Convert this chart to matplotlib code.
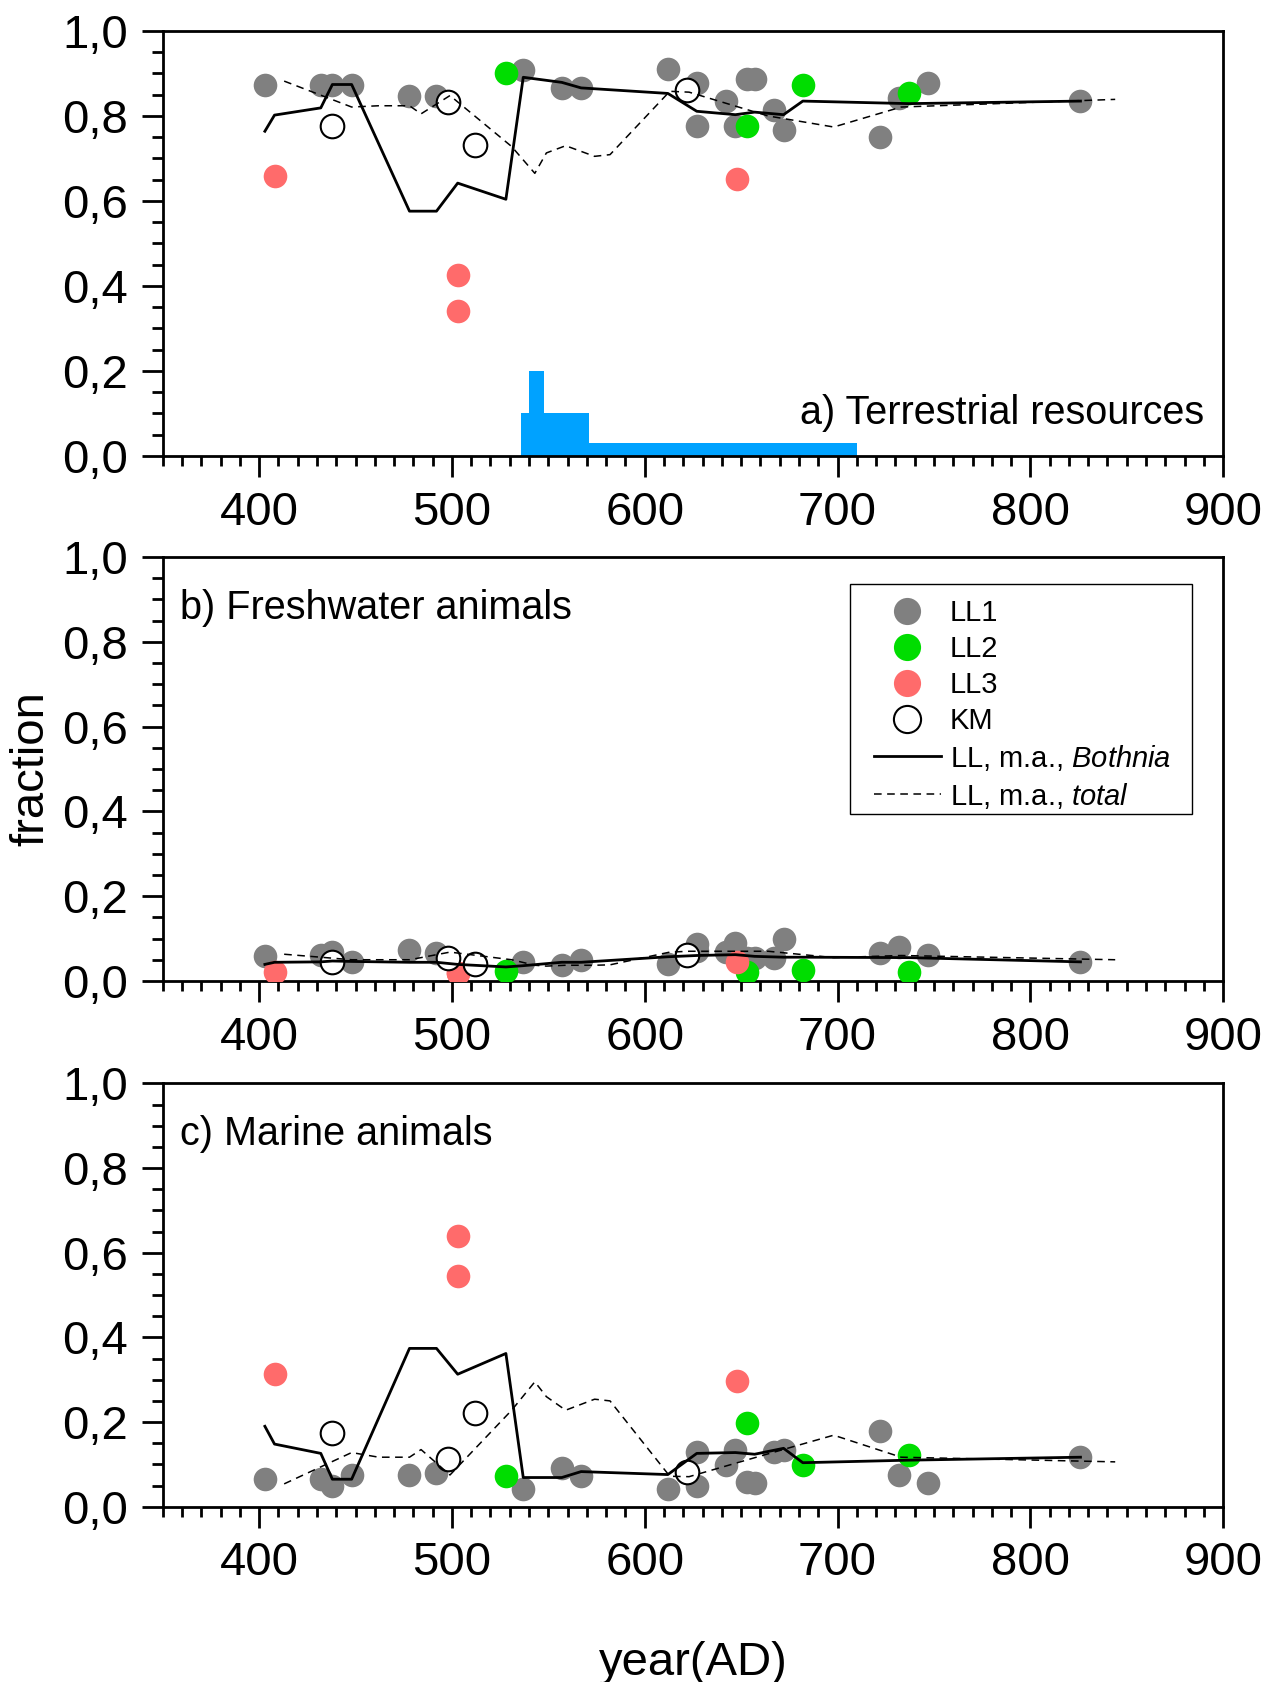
import numpy as np
import matplotlib
matplotlib.use('Agg')
import matplotlib.pyplot as plt
from matplotlib.patches import Rectangle
from matplotlib.ticker import MultipleLocator, FuncFormatter

plt.rcParams['font.family'] = ['Liberation Sans', 'DejaVu Sans']
plt.rcParams['mathtext.fontset'] = 'custom'
plt.rcParams['mathtext.rm'] = 'Liberation Sans'
plt.rcParams['mathtext.it'] = 'Liberation Sans:italic'

# ---- data ----
# LL1 samples (grey)
ll1_year = [403, 432, 438, 448, 478, 492, 537, 557, 567, 612, 627, 627, 642, 647, 653, 657, 667, 672, 722, 732, 747, 826]
ll1_terr = [0.874, 0.874, 0.874, 0.874, 0.848, 0.848, 0.909, 0.866, 0.866, 0.911, 0.878, 0.777, 0.835, 0.777, 0.886, 0.886, 0.815, 0.768, 0.750, 0.843, 0.878, 0.835]
ll1_fresh = [0.058, 0.061, 0.068, 0.045, 0.072, 0.065, 0.045, 0.037, 0.050, 0.040, 0.070, 0.088, 0.068, 0.090, 0.053, 0.055, 0.053, 0.098, 0.066, 0.080, 0.061, 0.045]
ll1_marine = [0.065, 0.065, 0.049, 0.076, 0.076, 0.079, 0.043, 0.091, 0.072, 0.043, 0.049, 0.130, 0.098, 0.134, 0.059, 0.057, 0.130, 0.134, 0.180, 0.076, 0.057, 0.117]

# LL2 samples (green)
ll2_year = [528, 653, 682, 737]
ll2_terr = [0.900, 0.777, 0.872, 0.853]
ll2_fresh = [0.023, 0.021, 0.025, 0.021]
ll2_marine = [0.072, 0.197, 0.098, 0.122]

# LL3 samples (red)
ll3_year = [408, 503, 503, 648]
ll3_terr = [0.659, 0.425, 0.341, 0.651]
ll3_fresh = [0.021, 0.019, 0.019, 0.045]
ll3_marine = [0.313, 0.546, 0.640, 0.297]

# KM samples (open circles)
km_year = [438, 498, 512, 622]
km_terr = [0.776, 0.832, 0.732, 0.861]
km_fresh = [0.045, 0.053, 0.041, 0.061]
km_marine = [0.175, 0.112, 0.222, 0.083]

# moving average, Bothnia (solid)
ma_b_year = [403, 408, 432, 438, 448, 478, 492, 503, 528, 537, 557, 567, 612, 627, 647, 657, 672, 682, 737, 826]
ma_b_terr = [0.764, 0.802, 0.819, 0.874, 0.874, 0.576, 0.576, 0.642, 0.604, 0.891, 0.879, 0.866, 0.853, 0.811, 0.803, 0.809, 0.803, 0.835, 0.829, 0.835]
ma_b_fresh = [0.039, 0.044, 0.045, 0.047, 0.046, 0.044, 0.044, 0.039, 0.033, 0.036, 0.044, 0.044, 0.057, 0.060, 0.062, 0.058, 0.056, 0.056, 0.055, 0.045]
ma_b_marine = [0.190, 0.148, 0.126, 0.065, 0.065, 0.374, 0.374, 0.313, 0.362, 0.069, 0.069, 0.083, 0.076, 0.126, 0.128, 0.124, 0.138, 0.104, 0.110, 0.117]

# moving average, total (dashed)
ma_t_year = [413, 448, 462, 478, 484, 499, 531, 543, 549, 559, 574, 582, 613, 623, 664, 698, 733, 844]
ma_t_terr = [0.882, 0.821, 0.824, 0.824, 0.805, 0.848, 0.728, 0.665, 0.713, 0.730, 0.705, 0.709, 0.858, 0.856, 0.800, 0.774, 0.821, 0.839]
ma_t_fresh = [0.063, 0.050, 0.050, 0.050, 0.055, 0.068, 0.050, 0.037, 0.035, 0.037, 0.037, 0.038, 0.068, 0.070, 0.070, 0.055, 0.060, 0.050]
ma_t_marine = [0.054, 0.128, 0.117, 0.117, 0.135, 0.075, 0.228, 0.295, 0.260, 0.228, 0.254, 0.250, 0.072, 0.071, 0.125, 0.169, 0.117, 0.106]

# blue histogram in panel a
hist_edges = [536, 540, 548, 571, 585, 710]
hist_vals = [0.10, 0.20, 0.10, 0.03, 0.03]

panels = [
    ('a) Terrestrial resources', ll1_terr, ll2_terr, ll3_terr, km_terr, ma_b_terr, ma_t_terr),
    ('b) Freshwater animals', ll1_fresh, ll2_fresh, ll3_fresh, km_fresh, ma_b_fresh, ma_t_fresh),
    ('c) Marine animals', ll1_marine, ll2_marine, ll3_marine, km_marine, ma_b_marine, ma_t_marine),
]

GREY = '#808080'
GREEN = '#00dd00'
RED = '#ff6b6b'
BLUE = '#00a2ff'

fig = plt.figure(figsize=(12.8, 16.82), dpi=100)
boxes = [(0.1271, 0.7289, 0.8285, 0.2527),
         (0.1271, 0.4168, 0.8285, 0.2521),
         (0.1271, 0.1042, 0.8285, 0.2517)]

ms = 17
axes = []
for i, (title, t1, t2, t3, tk, tb, tt) in enumerate(panels):
    ax = fig.add_axes(boxes[i])
    axes.append(ax)
    if i == 0:
        widths = np.diff(hist_edges)
        ax.bar(hist_edges[:-1], hist_vals, width=widths, align='edge',
               color=BLUE, edgecolor='none', zorder=1)
    ax.plot(ll1_year, t1, 'o', color=GREY, ms=ms, mec='none', zorder=2, label='LL1')
    ax.plot(ll2_year, t2, 'o', color=GREEN, ms=ms, mec='none', zorder=3, label='LL2')
    ax.plot(ll3_year, t3, 'o', color=RED, ms=ms, mec='none', zorder=4, label='LL3')
    ax.plot(km_year, tk, 'o', mfc='white', mec='black', mew=1.5, ms=ms, zorder=5, label='KM')
    ax.plot(ma_b_year, tb, '-', color='black', lw=2.0, zorder=6, label='LL, m.a., $\\it{Bothnia}$')
    ax.plot(ma_t_year, tt, '--', color='black', lw=1.1, dashes=(5, 3.6), zorder=6,
            label='LL, m.a., $\\it{total}$')

    ax.set_xlim(350, 900)
    ax.set_ylim(0, 1.0)
    ax.xaxis.set_major_locator(MultipleLocator(100))
    ax.xaxis.set_minor_locator(MultipleLocator(10))
    ax.yaxis.set_major_locator(MultipleLocator(0.2))
    ax.yaxis.set_minor_locator(MultipleLocator(0.05))
    ax.yaxis.set_major_formatter(FuncFormatter(lambda v, p: ('%.1f' % v).replace('.', ',')))
    ax.xaxis.set_major_formatter(FuncFormatter(lambda v, p: '' if v < 400 else '%d' % v))
    ax.tick_params(which='major', direction='out', length=15, width=2, labelsize=34, pad=10)
    ax.tick_params(which='minor', direction='out', length=7, width=2)
    ax.tick_params(axis='y', which='minor', length=8)
    for sp in ax.spines.values():
        sp.set_linewidth(2)

    if i == 0:
        ax.text(890, 0.1, title, ha='right', va='center', fontsize=28.5)
    else:
        ax.text(359, 0.88, title, ha='left', va='center', fontsize=28.5)

# legend without its own frame; the box is drawn separately
leg = axes[1].legend(loc='upper left', bbox_to_anchor=(0.661, 0.9245), fontsize=21,
                     frameon=False, handlelength=2.3, handletextpad=0.3,
                     labelspacing=0.27, borderpad=0.35, borderaxespad=0,
                     markerscale=1.15)
axes[1].add_patch(Rectangle((0.648, 0.394), 0.3226, 0.542, transform=axes[1].transAxes,
                            fill=False, edgecolor='black', lw=1.0, zorder=10))

axes[1].set_ylabel('fraction', fontsize=34, labelpad=6)
axes[2].set_xlabel('year(AD)', fontsize=34, labelpad=40)

fig.savefig('out.png', dpi=100)
